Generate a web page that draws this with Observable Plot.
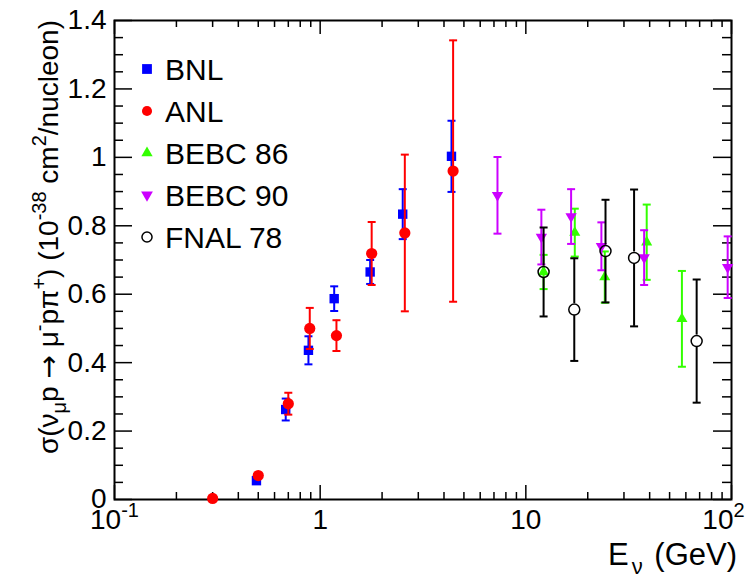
<!DOCTYPE html>
<html><head><meta charset="utf-8">
<script src="https://cdn.jsdelivr.net/npm/d3@7"></script>
<script src="https://cdn.jsdelivr.net/npm/@observablehq/plot@0.6"></script>
<style>
html,body{margin:0;padding:0;background:#fff;}
#chart svg{display:block;}
</style></head><body><div id="chart"></div>
<script>
// ---- data (E in GeV, sigma in 1e-38 cm^2/nucleon, symmetric error) ----
const bnlE     = [0.49, 0.68, 0.877, 1.17, 1.75, 2.52, 4.35];
const bnlSigma = [0.055, 0.263, 0.436, 0.587, 0.665, 0.834, 1.003];
const bnlErr   = [0.008, 0.032, 0.041, 0.036, 0.035, 0.073, 0.104];

const anlE     = [0.30, 0.50, 0.70, 0.89, 1.20, 1.78, 2.58, 4.43];
const anlSigma = [0.003, 0.070, 0.280, 0.500, 0.479, 0.719, 0.779, 0.960];
const anlErr   = [0.000, 0.005, 0.032, 0.060, 0.045, 0.092, 0.229, 0.382];

const bebc86E     = [12.2, 17.3, 24.2, 38.7, 57.4];
const bebc86Sigma = [0.665, 0.780, 0.650, 0.752, 0.528];
const bebc86Err   = [0.050, 0.070, 0.075, 0.110, 0.140];

const bebc90E     = [7.28, 11.9, 16.6, 23.3, 37.6, 95.8];
const bebc90Sigma = [0.889, 0.767, 0.827, 0.740, 0.707, 0.679];
const bebc90Err   = [0.112, 0.080, 0.080, 0.070, 0.080, 0.090];

const fnalE     = [12.2, 17.2, 24.4, 33.6, 67.7];
const fnalSigma = [0.665, 0.555, 0.726, 0.706, 0.463];
const fnalErr   = [0.130, 0.150, 0.150, 0.200, 0.180];

const seriesNames  = ["BNL", "ANL", "BEBC 86", "BEBC 90", "FNAL 78"];
const seriesColors = ["#0000ff", "#ff0000", "#33ff00", "#cc00ff", "#000000"];

const xTickValues = [0.1, 1, 10, 100];
const xTickBase   = ["10", "1", "10", "10"];
const xTickSup    = ["-1", "", "", "2"];
const xMinorTicks = [0.2,0.3,0.4,0.5,0.6,0.7,0.8,0.9, 2,3,4,5,6,7,8,9, 20,30,40,50,60,70,80,90];
const yTickValues = [0, 0.2, 0.4, 0.6, 0.8, 1.0, 1.2, 1.4];
const yTickLabels = ["0", "0.2", "0.4", "0.6", "0.8", "1", "1.2", "1.4"];
const yMinorTicks = [0.05,0.1,0.15,0.25,0.3,0.35,0.45,0.5,0.55,0.65,0.7,0.75,0.85,0.9,0.95,1.05,1.1,1.15,1.25,1.3,1.35];

// ---- layout ----
const W = 750, H = 578, mL = 114, mR = 19, mT = 20, mB = 79;
const fw = W - mL - mR, fh = H - mT - mB;
const FONT = "'Liberation Sans', Arial, Helvetica, sans-serif";
const yMax = 1.4;

const rows = (E, S, Er) => E.map((e, i) => ({E: e, s: S[i], err: Er[i], lo: S[i] - Er[i], hi: S[i] + Er[i]}));
const bnl = rows(bnlE, bnlSigma, bnlErr);
const anl = rows(anlE, anlSigma, anlErr);
const b86 = rows(bebc86E, bebc86Sigma, bebc86Err);
const b90 = rows(bebc90E, bebc90Sigma, bebc90Err);
const fnal = rows(fnalE, fnalSigma, fnalErr);

const hline = {draw(ctx) { ctx.moveTo(-4, 0); ctx.lineTo(4, 0); }};
const triDown = {draw(ctx, size) {
  const y = Math.sqrt(size / (Math.sqrt(3) * 3));
  ctx.moveTo(0, 2 * y); ctx.lineTo(-Math.sqrt(3) * y, -y); ctx.lineTo(Math.sqrt(3) * y, -y); ctx.closePath();
}};

function errMarks(data, color, gapPx = 0) {
  const g = gapPx * yMax / fh;
  const withErr = data.filter(d => d.err > 0);
  return [
    Plot.ruleX(withErr, {x: "E", y1: "hi", y2: d => d.s + g, stroke: color, strokeWidth: 2}),
    Plot.ruleX(withErr, {x: "E", y1: d => d.s - g, y2: "lo", stroke: color, strokeWidth: 2}),
    Plot.dot(withErr, {x: "E", y: "hi", symbol: hline, stroke: color, fill: "none", strokeWidth: 2}),
    Plot.dot(withErr, {x: "E", y: "lo", symbol: hline, stroke: color, fill: "none", strokeWidth: 2})
  ];
}

const svg = Plot.plot({
  width: W, height: H,
  marginLeft: mL, marginRight: mR, marginTop: mT, marginBottom: mB,
  style: {fontFamily: FONT, background: "white", color: "black"},
  x: {type: "log", domain: [0.1, 100], axis: null},
  y: {domain: [0, yMax], axis: null},
  marks: [
    Plot.tickX(xMinorTicks, {x: d => d, insetTop: fh - 7, stroke: "black", strokeWidth: 1.5}),
    Plot.tickX(xMinorTicks, {x: d => d, insetBottom: fh - 7, stroke: "black", strokeWidth: 1.5}),
    Plot.tickX(xTickValues, {x: d => d, insetTop: fh - 14, stroke: "black", strokeWidth: 1.5}),
    Plot.tickX(xTickValues, {x: d => d, insetBottom: fh - 14, stroke: "black", strokeWidth: 1.5}),
    Plot.tickY(yMinorTicks, {y: d => d, insetRight: fw - 9, stroke: "black", strokeWidth: 1.5}),
    Plot.tickY(yMinorTicks, {y: d => d, insetLeft: fw - 9, stroke: "black", strokeWidth: 1.5}),
    Plot.tickY(yTickValues, {y: d => d, insetRight: fw - 18, stroke: "black", strokeWidth: 1.5}),
    Plot.tickY(yTickValues, {y: d => d, insetLeft: fw - 18, stroke: "black", strokeWidth: 1.5}),
    Plot.frame({stroke: "black", strokeWidth: 2}),
    Plot.axisX(xTickValues, {tickSize: 0, tickPadding: 10, fontSize: 28, tickFormat: d => xTickBase[xTickValues.indexOf(d)], label: null}),
    Plot.axisY(yTickValues, {tickSize: 0, tickPadding: 8, fontSize: 28, tickFormat: d => yTickLabels[yTickValues.indexOf(d)], label: null}),
    ...errMarks(bnl, seriesColors[0]),
    Plot.dot(bnl, {x: "E", y: "s", symbol: "square", r: 5.3, fill: seriesColors[0], stroke: "none"}),
    ...errMarks(anl, seriesColors[1]),
    Plot.dot(anl, {x: "E", y: "s", symbol: "circle", r: 5.6, fill: seriesColors[1], stroke: "none"}),
    ...errMarks(b86, seriesColors[2]),
    Plot.dot(b86, {x: "E", y: "s", symbol: "triangle", r: 4.1, fill: seriesColors[2], stroke: "none"}),
    ...errMarks(b90, seriesColors[3]),
    Plot.dot(b90, {x: "E", y: "s", symbol: triDown, r: 4.2, fill: seriesColors[3], stroke: "none"}),
    ...errMarks(fnal, seriesColors[4], 6),
    Plot.dot(fnal, {x: "E", y: "s", symbol: "circle", r: 5.5, fill: "none", stroke: seriesColors[4], strokeWidth: 1.5})
  ]
});

document.getElementById("chart").appendChild(svg);
const s = d3.select(svg);

// superscripts on x tick labels (last one nudged inside, as in the original)
s.selectAll('g[aria-label="x-axis tick label"] text').each(function (d, i) {
  const t = d3.select(this);
  t.text(null);
  if (i === xTickValues.length - 1) t.attr("dx", -8);
  t.append("tspan").text(xTickBase[i]);
  if (xTickSup[i]) t.append("tspan").attr("dy", -12).attr("font-size", 20).text(xTickSup[i]);
});

function rich(g, parts, size) {
  let shift = 0;
  parts.forEach(([txt, kind, extra]) => {
    const target = kind === "sub" ? 0.3 * size : kind === "sup" ? -0.42 * size : 0;
    const ts = g.append("tspan").attr("dy", target - shift).text(txt);
    if (kind === "sub" || kind === "sup") ts.attr("font-size", Math.round(size * 0.7));
    if (extra && extra.dx) ts.attr("dx", extra.dx);
    if (extra && extra.font) ts.attr("font-family", extra.font);
    shift = target;
  });
}

// y title
const yt = s.append("text")
  .attr("transform", `translate(58,${mT}) rotate(-90)`)
  .attr("text-anchor", "end").attr("font-size", 28).attr("font-family", FONT).attr("fill", "black");
rich(yt, [["σ(ν"], ["μ", "sub"], ["p "], ["→", null, {font: "'DejaVu Sans', sans-serif"}], [" μ"], ["-", "sup"], ["pπ"], ["+", "sup"], [") (10"], ["-38", "sup"], [" cm"], ["2", "sup"], ["/nucleon)"]], 28);

// x title
const xt = s.append("text")
  .attr("x", 737).attr("y", 565)
  .attr("text-anchor", "end").attr("font-size", 31).attr("font-family", FONT).attr("fill", "black");
rich(xt, [["E"], ["ν", "sub", {dx: 3}], [" (GeV)", null, {dx: 3}]], 31);

// legend
const legendSymbols = [d3.symbolSquare, d3.symbolCircle, d3.symbolTriangle, triDown, d3.symbolCircle];
const legendSizes = [96, 80, 55, 60, 80];
const lg = s.append("g").attr("font-family", FONT).attr("font-size", 30).attr("text-anchor", "start");
seriesNames.forEach((name, i) => {
  const cy = 69 + 42 * i;
  const path = lg.append("path")
    .attr("transform", `translate(147,${cy})`)
    .attr("d", d3.symbol(legendSymbols[i], legendSizes[i])());
  if (i === 4) path.attr("fill", "none").attr("stroke", "black").attr("stroke-width", 1.5);
  else path.attr("fill", seriesColors[i]);
  lg.append("text").attr("x", 165).attr("y", cy + 11).attr("text-anchor", "start").attr("fill", "black").text(name);
});
</script>
</body></html>
